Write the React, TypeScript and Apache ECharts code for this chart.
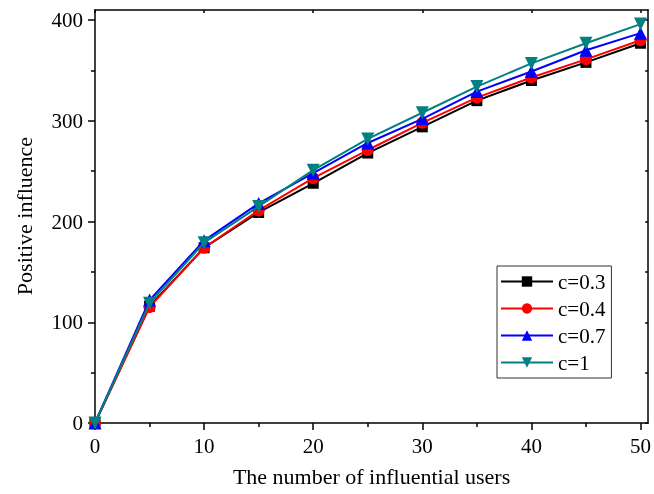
import React, { useEffect, useRef } from "react";
import * as echarts from "echarts";

const xValues = [0, 5, 10, 15, 20, 25, 30, 35, 40, 45, 50];
const c03 = [0, 116, 174, 209, 238, 268, 294, 320, 340, 358, 377];
const c04 = [0, 115, 174, 211, 243, 271, 298, 323, 343, 361, 380];
const c07 = [0, 122, 181, 218, 248, 278, 302, 329, 349, 370, 387];
const c1 = [0, 119, 179, 215, 251, 282, 308, 334, 357, 377, 396];
const seriesNames = ["c=0.3", "c=0.4", "c=0.7", "c=1"];
const xMajorTicks = [0, 10, 20, 30, 40, 50];
const xMinorTicks = [5, 15, 25, 35, 45];
const yMajorTicks = [0, 100, 200, 300, 400];
const yMinorTicks = [50, 150, 250, 350];

const FONT = "Liberation Serif";

export default function App() {
  const ref = useRef<HTMLDivElement>(null);
  useEffect(() => {
    const chart = echarts.init(ref.current!, undefined, { renderer: "svg" });
    const lineStyle = { color: "#000", width: 1.5 };
    const colors = ["#000000", "#ff0000", "#0000ff", "#008080"];
    const symbols = ["rect", "circle", "triangle", "triangle"];
    const rotates = [0, 0, 0, 180];
    const sizes = [11, 12, 13, 13];
    const datasets = [c03, c04, c07, c1];
    const xBase = { type: "value", min: 0, max: 50.7, splitLine: { show: false } };
    const yBase = { type: "value", min: 0, max: 410, splitLine: { show: false } };
    chart.setOption({
      animation: false,
      grid: { left: 95, top: 10, right: 3, bottom: 71 },
      xAxis: [
        {
          ...xBase,
          position: "bottom",
          axisLine: { show: true, onZero: false, lineStyle },
          axisTick: { show: true, customValues: xMajorTicks, length: 7, lineStyle },
          axisLabel: {
            customValues: xMajorTicks,
            fontFamily: FONT,
            fontSize: 21,
            color: "#000",
            margin: 12,
          },
          name: "The number of influential users",
          nameLocation: "middle",
          nameGap: 42,
          nameTextStyle: { fontFamily: FONT, fontSize: 22, color: "#000" },
        },
        {
          ...xBase,
          position: "bottom",
          axisLine: { show: false, onZero: false },
          axisTick: { show: true, customValues: xMinorTicks, length: 4, lineStyle },
          axisLabel: { show: false },
        },
        {
          ...xBase,
          position: "top",
          axisLine: { show: true, onZero: false, lineStyle },
          axisTick: { show: true, inside: true, customValues: xMajorTicks, length: 3, lineStyle },
          axisLabel: { show: false },
        },
      ],
      yAxis: [
        {
          ...yBase,
          position: "left",
          axisLine: { show: true, onZero: false, lineStyle },
          axisTick: { show: true, customValues: yMajorTicks, length: 7, lineStyle },
          axisLabel: {
            customValues: yMajorTicks,
            fontFamily: FONT,
            fontSize: 21,
            color: "#000",
            margin: 12,
          },
        },
        {
          ...yBase,
          position: "left",
          axisLine: { show: false, onZero: false },
          axisTick: { show: true, customValues: yMinorTicks, length: 4, lineStyle },
          axisLabel: { show: false },
        },
        {
          ...yBase,
          position: "right",
          axisLine: { show: true, onZero: false, lineStyle },
          axisTick: {
            show: true,
            inside: true,
            customValues: [...yMajorTicks, ...yMinorTicks],
            length: 3,
            lineStyle,
          },
          axisLabel: { show: false },
        },
      ],
      graphic: [
        {
          type: "text",
          x: 24,
          y: 216,
          rotation: Math.PI / 2,
          style: {
            text: "Positive influence",
            font: `22px "${FONT}"`,
            fill: "#000",
            align: "center",
            verticalAlign: "middle",
          },
        },
      ],
      legend: {
        orient: "vertical",
        left: 497,
        top: 266,
        padding: [5, 6, 5, 3],
        itemGap: 6,
        itemWidth: 52,
        itemHeight: 13,
        borderColor: "#333",
        borderWidth: 1,
        textStyle: { fontFamily: FONT, fontSize: 21, color: "#000" },
        data: seriesNames,
      },
      series: datasets.map((d, i) => ({
        name: seriesNames[i],
        type: "line",
        xAxisIndex: 0,
        yAxisIndex: 0,
        data: xValues.map((x, j) => [x, d[j]]),
        symbol: symbols[i],
        symbolRotate: rotates[i],
        symbolSize: sizes[i],
        showAllSymbol: true,
        lineStyle: { color: colors[i], width: 2 },
        itemStyle: { color: colors[i] },
        z: 2 + i,
      })),
    });
    return () => chart.dispose();
  }, []);
  return <div ref={ref} style={{ width: 654, height: 494, position: "fixed", left: 0, top: 0 }} />;
}
